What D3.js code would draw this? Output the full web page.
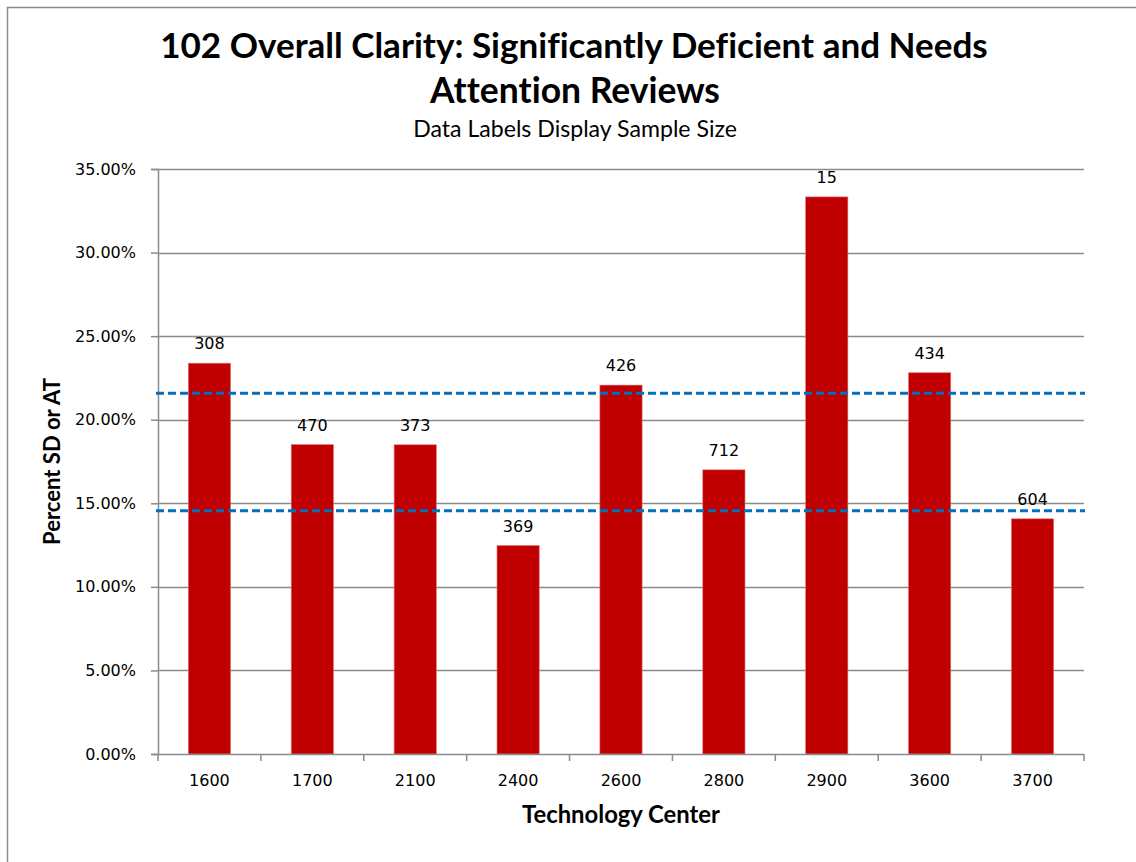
<!DOCTYPE html>
<html>
<head>
<meta charset="utf-8">
<script src="https://cdn.jsdelivr.net/npm/d3@7"></script>
<style>
  body { margin: 0; background: #fff; }
  text { font-variant-ligatures: none; }
</style>
</head>
<body>
<div id="chart"></div>
<script>
var centers = ["1600", "1700", "2100", "2400", "2600", "2800", "2900", "3600", "3700"];
var pctValues = [0.2338, 0.1851, 0.1850, 0.1247, 0.2207, 0.1700, 0.3333, 0.2281, 0.1407];
var sampleSizes = [308, 470, 373, 369, 426, 712, 15, 434, 604];
var refLines = [0.2158, 0.1456];
var yTicks = [0, 0.05, 0.10, 0.15, 0.20, 0.25, 0.30, 0.35];

var W = 1136, H = 862;
var plot = {left: 158, right: 1084, top: 169, bottom: 754};

var svg = d3.select("#chart").append("svg")
    .attr("width", W)
    .attr("height", H);

// outer chart border (only left/top visible in the shot)
svg.append("rect")
    .attr("x", 7.5).attr("y", 7.5)
    .attr("width", W + 20).attr("height", H + 20)
    .attr("fill", "#fff")
    .attr("stroke", "#8c8c8c")
    .attr("stroke-width", 1.5);

var x = d3.scaleBand()
    .domain(centers)
    .range([plot.left, plot.right])
    .paddingInner(0.59)
    .paddingOuter(0.295);

var y = d3.scaleLinear()
    .domain([0, 0.35])
    .range([plot.bottom, plot.top]);

// fit a text element to a target width
function fit(sel, target) {
    var fs = +sel.attr("font-size");
    var len = sel.node().getComputedTextLength();
    sel.attr("font-size", fs * target / len);
}

// gridlines
svg.append("g").selectAll("line")
    .data(yTicks.slice(1))
    .join("line")
    .attr("x1", plot.left).attr("x2", plot.right)
    .attr("y1", d => Math.round(y(d)) + 0.5)
    .attr("y2", d => Math.round(y(d)) + 0.5)
    .attr("stroke", "#8a8a8a")
    .attr("stroke-width", 1.5);

// y axis
var yAxis = svg.append("g")
    .attr("transform", "translate(" + plot.left + ",0)")
    .call(d3.axisLeft(y).tickValues(yTicks).tickFormat(d3.format(".2%")).tickSize(7).tickPadding(15));
yAxis.select(".domain").attr("stroke", "#8a8a8a").attr("stroke-width", 1.5);
yAxis.selectAll(".tick line").attr("stroke", "#8a8a8a").attr("stroke-width", 1.5);
yAxis.selectAll(".tick text")
    .attr("font-family", "DejaVu Sans, sans-serif")
    .attr("font-size", 16)
    .attr("fill", "#000");

// bars
svg.append("g").selectAll("rect")
    .data(pctValues)
    .join("rect")
    .attr("x", (d, i) => x(centers[i]))
    .attr("y", d => y(d))
    .attr("width", x.bandwidth())
    .attr("height", d => y(0) - y(d))
    .attr("fill", "#c00000")
    .attr("stroke", "#e07070")
    .attr("stroke-width", 0.6);

// x axis with ticks between categories
var xg = svg.append("g");
xg.append("line")
    .attr("x1", plot.left).attr("x2", plot.right)
    .attr("y1", plot.bottom + 0.5).attr("y2", plot.bottom + 0.5)
    .attr("stroke", "#8a8a8a").attr("stroke-width", 1.5);
xg.selectAll("line.tk")
    .data(d3.range(centers.length + 1))
    .join("line")
    .attr("class", "tk")
    .attr("x1", i => plot.left + i * (plot.right - plot.left) / centers.length)
    .attr("x2", i => plot.left + i * (plot.right - plot.left) / centers.length)
    .attr("y1", plot.bottom).attr("y2", plot.bottom + 7)
    .attr("stroke", "#8a8a8a").attr("stroke-width", 1.5);
xg.selectAll("text")
    .data(centers)
    .join("text")
    .attr("x", d => x(d) + x.bandwidth() / 2)
    .attr("y", 786)
    .attr("text-anchor", "middle")
    .attr("font-family", "DejaVu Sans, sans-serif")
    .attr("font-size", 16)
    .text(d => d);

// reference dashed lines
svg.append("g").selectAll("line")
    .data(refLines)
    .join("line")
    .attr("x1", plot.left - 2).attr("x2", plot.right + 1)
    .attr("y1", d => y(d)).attr("y2", d => y(d))
    .attr("stroke", "#0070c0")
    .attr("stroke-width", 3)
    .attr("stroke-dasharray", "8,4");

// data labels (sample size)
svg.append("g").selectAll("text")
    .data(sampleSizes)
    .join("text")
    .attr("x", (d, i) => x(centers[i]) + x.bandwidth() / 2)
    .attr("y", (d, i) => y(pctValues[i]) - 14)
    .attr("text-anchor", "middle")
    .attr("font-family", "DejaVu Sans, sans-serif")
    .attr("font-size", 16)
    .text(d => d);

// titles
var t1 = svg.append("text")
    .attr("x", 574).attr("y", 58)
    .attr("text-anchor", "middle")
    .attr("font-family", "Lato, sans-serif")
    .attr("font-weight", "bold")
    .attr("font-size", 32)
    .text("102 Overall Clarity: Significantly Deficient and Needs");
fit(t1, 828);
var t2 = svg.append("text")
    .attr("x", 575).attr("y", 103)
    .attr("text-anchor", "middle")
    .attr("font-family", "Lato, sans-serif")
    .attr("font-weight", "bold")
    .attr("font-size", 32)
    .text("Attention Reviews");
fit(t2, 290);
var st = svg.append("text")
    .attr("x", 575).attr("y", 137)
    .attr("text-anchor", "middle")
    .attr("font-family", "Lato, sans-serif")
    .attr("font-size", 18)
    .text("Data Labels Display Sample Size");
fit(st, 324);

var xt = svg.append("text")
    .attr("x", (plot.left + plot.right) / 2).attr("y", 823)
    .attr("text-anchor", "middle")
    .attr("font-family", "Lato, sans-serif")
    .attr("font-weight", "bold")
    .attr("font-size", 20)
    .text("Technology Center");
fit(xt, 198);

var yt = svg.append("text")
    .attr("transform", "translate(60," + (plot.top + plot.bottom) / 2 + ") rotate(-90)")
    .attr("text-anchor", "middle")
    .attr("font-family", "Lato, sans-serif")
    .attr("font-weight", "bold")
    .attr("font-size", 18)
    .text("Percent SD or AT");
fit(yt, 167);
</script>
</body>
</html>
